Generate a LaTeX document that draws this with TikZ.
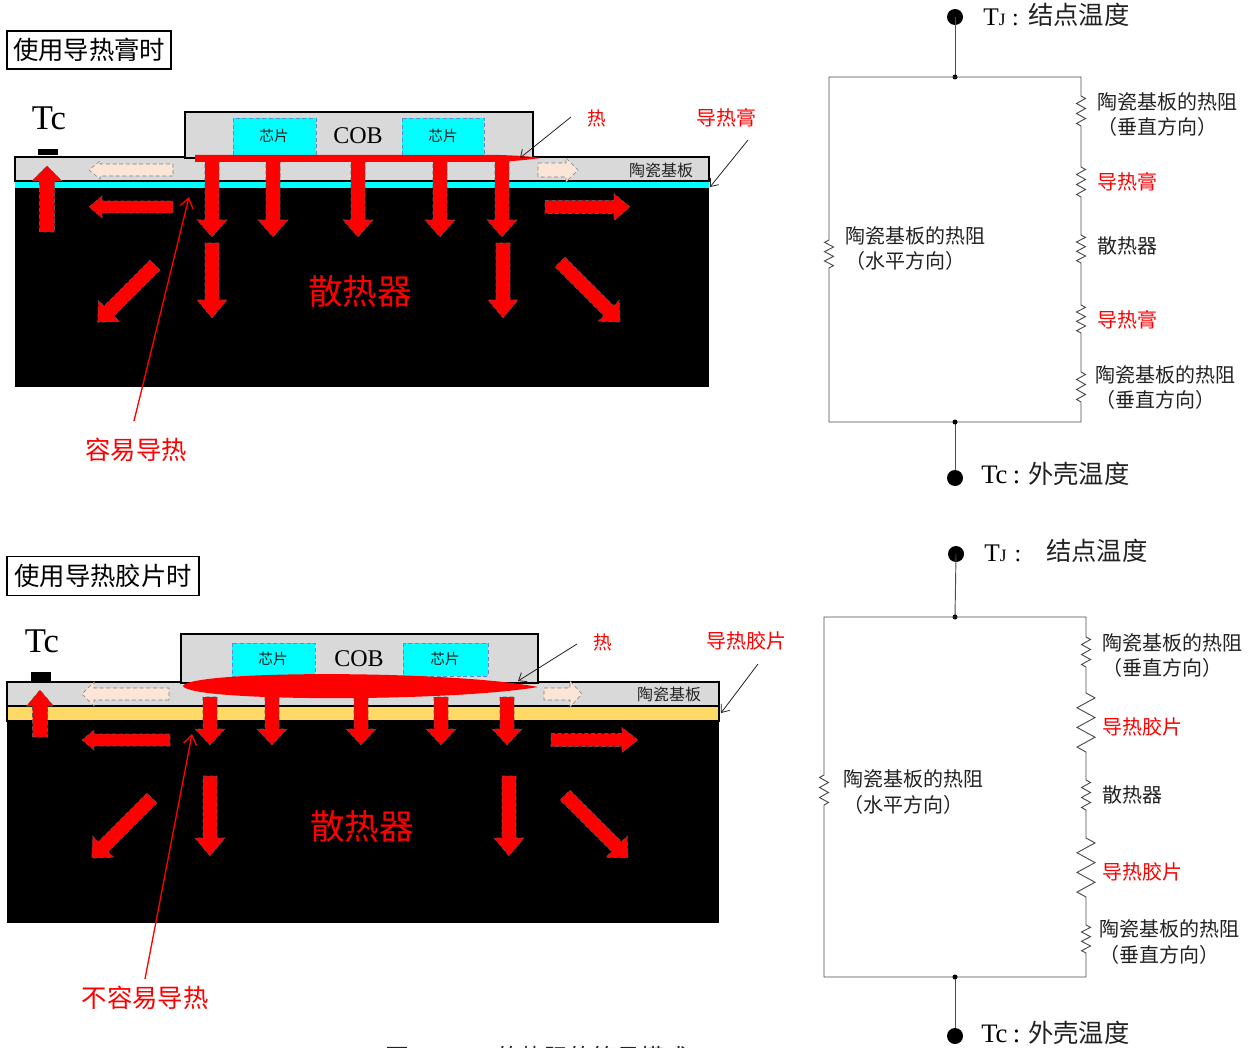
\documentclass[tikz,border=0pt]{standalone}
\usepackage{fontspec}
\setmainfont{Liberation Serif}
\newfontfamily\cjk{Noto Sans CJK SC}
\usetikzlibrary{arrows.meta}
\definecolor{plate}{HTML}{D9D9D9}
\definecolor{hot}{HTML}{FF0000}
\definecolor{peach}{HTML}{FBE5D6}
\definecolor{paste}{HTML}{00FFFF}
\definecolor{pad}{HTML}{FFD966}
\definecolor{chipedge}{HTML}{5B8FC8}
\definecolor{ink}{HTML}{222222}

% block arrow: x, y, angle, length, shaft width, head width, head length, style
\newcommand\blockarrow[8]{%
  \begin{scope}[shift={(#1,#2)},rotate=#3]
    \path[#8] (0,{-#5/2}) -- ({#4-#7},{-#5/2}) -- ({#4-#7},{-#6/2}) -- (#4,0)
      -- ({#4-#7},{#6/2}) -- ({#4-#7},{#5/2}) -- (0,{#5/2}) -- cycle;
  \end{scope}}

% zigzag resistor inserted into a wire path: x, y-start, y-end, amplitude
\newcommand\zz[4]{-- (#1,#2) -- ++(#4,{(#3-#2)/12}) -- ++({-2*#4},{(#3-#2)/6})
  -- ++({2*#4},{(#3-#2)/6}) -- ++({-2*#4},{(#3-#2)/6}) -- ++({2*#4},{(#3-#2)/6})
  -- ++({-2*#4},{(#3-#2)/6}) -- ++(#4,{(#3-#2)/12})}

\begin{document}
\begin{tikzpicture}[x=0.75pt,y=-0.75pt,
  cn/.style={font=\cjk\fontsize{#1}{#1}\selectfont, inner sep=0pt},
  lat/.style={font=\fontsize{#1}{#1}\selectfont, inner sep=0pt},
  heat/.style={fill=hot, draw=gray!70!black, densely dashed, line width=0.4pt},
  glow/.style={fill=peach, draw=gray, densely dashed, line width=0.4pt},
  chip/.style={fill=paste, draw=chipedge, densely dashed, line width=0.5pt},
  layer/.style={fill=plate, draw=black, line width=1.1pt},
  leader/.style={draw=ink, line width=0.6pt, -{Straight Barb[length=5pt,width=8pt]}},
  redlead/.style={draw=hot, line width=1pt, -{Straight Barb[length=7pt,width=10pt]}},
  wire/.style={draw=black!70, line width=0.7pt},
  bigdot/.style={fill=black, draw=none},
  ]
\useasboundingbox (0,0) rectangle (1259,1048);

%% ================= upper cross-section: thermal grease =================
\node[draw=black, line width=1.2pt, minimum width=164*0.75pt, minimum height=38*0.75pt, cn=19, inner sep=0pt]
  (titleA) at (89,50) {使用导热膏时};
\node[lat=26] (tcA) at (49,118) {Tc};
\fill[black] (38,149) rectangle (58,155);

\fill[black] (15,188) rectangle (709,387);
\fill[paste] (15,181) rectangle (709,188);
\draw[layer] (15,157) rectangle (709,181);
\draw[layer] (185,112) rectangle (533,158);
\draw[chip] (233,118) rectangle (316,155);
\draw[chip] (402,118) rectangle (484,155);
\node[cn=11, text=ink] (chipA1) at (274,136) {芯片};
\node[cn=11, text=ink] (chipA2) at (443,136) {芯片};
\node[lat=18] (cobA) at (358,136) {COB};
\node[cn=12, text=ink] (subA) at (661,170) {陶瓷基板};

% sideways spreading in the substrate
\blockarrow{173}{170}{180}{84}{12}{18}{11}{glow}
\blockarrow{538}{170}{0}{40}{14}{24}{12}{glow}

% heat flow into the heat sink
\foreach \xx in {212,273,358,440,502}
  \blockarrow{\xx}{160}{-90}{77}{14}{30}{17}{heat};
\blockarrow{212}{243}{-90}{75}{14}{30}{18}{heat}
\blockarrow{503}{243}{-90}{75}{14}{30}{18}{heat}
\blockarrow{47}{232}{90}{66}{15}{30}{15}{heat}
\blockarrow{173}{207}{180}{84}{12}{22}{13}{heat}
\blockarrow{545}{207}{0}{85}{13}{27}{16}{heat}
\blockarrow{155}{265}{-135}{81}{14}{30}{16}{heat}
\blockarrow{560}{262}{-45}{85}{14}{30}{16}{heat}

% heat source under the chips
\fill[hot] (195,155) -- (500,155) .. controls (525,156) .. (541,158)
  .. controls (525,160) .. (500,162) -- (195,162) -- cycle;

\node[cn=26, text=hot] (sinkA) at (360,291) {散热器};

\node[cn=14, text=hot] (heatA) at (597,118) {热};
\coordinate (heatAfrom) at (571,117);
\coordinate (heatAto) at (520,158);
\draw[leader] (heatAfrom) -- (heatAto);
\node[cn=15, text=hot] (greaseA) at (726,118) {导热膏};
\coordinate (greaseAfrom) at (748,140);
\coordinate (greaseAto) at (710,187);
\draw[leader] (greaseAfrom) -- (greaseAto);

\node[cn=19, text=hot] (easyA) at (136,450) {容易导热};
\coordinate (easyAfrom) at (134,421);
\coordinate (easyAto) at (189,197);
\draw[redlead] (easyAfrom) -- (easyAto);

%% ================= lower cross-section: thermal pad =================
\node[draw=black, line width=1.2pt, minimum width=192*0.75pt, minimum height=39*0.75pt, cn=19, inner sep=0pt]
  (titleB) at (103,576) {使用导热胶片时};
\node[lat=26] (tcB) at (42,641) {Tc};
\fill[black] (31,672) rectangle (51,682);

\fill[black] (7,721) rectangle (719,923);
\draw[fill=pad, draw=black, line width=1.1pt] (7,706) rectangle (719,721);
\draw[layer] (7,682) rectangle (719,706);
\draw[layer] (181,634) rectangle (538,683);
\draw[chip] (232,643) rectangle (315,676);
\draw[chip] (403,643) rectangle (488,676);
\node[cn=11, text=ink] (chipB1) at (273,659) {芯片};
\node[cn=11, text=ink] (chipB2) at (445,659) {芯片};
\node[lat=18] (cobB) at (359,659) {COB};
\node[cn=12, text=ink] (subB) at (669,694) {陶瓷基板};

\blockarrow{169}{694}{180}{87}{12}{24}{12}{glow}
\blockarrow{544}{694}{0}{38}{12}{26}{12}{glow}

\foreach \xx in {210,272,361,441,507}
  \blockarrow{\xx}{697}{-90}{48}{14}{30}{16}{heat};
\blockarrow{210}{776}{-90}{80}{14}{30}{18}{heat}
\blockarrow{509}{776}{-90}{80}{14}{30}{18}{heat}
\blockarrow{40}{737}{90}{47}{15}{27}{16}{heat}
\blockarrow{170}{740}{180}{88}{12}{20}{12}{heat}
\blockarrow{551}{740}{0}{87}{13}{25}{16}{heat}
\blockarrow{152}{798}{-135}{85}{14}{30}{16}{heat}
\blockarrow{565}{795}{-45}{89}{14}{30}{16}{heat}

% heat source under the chips
\fill[hot] (538,687) .. controls (450,670) and (190,670) .. (183,686)
  .. controls (190,702) and (450,702) .. (538,687) -- cycle;

\node[cn=26, text=hot] (sinkB) at (362,826) {散热器};

\node[cn=14, text=hot] (heatB) at (603,642) {热};
\coordinate (heatBfrom) at (577,644);
\coordinate (heatBto) at (518,681);
\draw[leader] (heatBfrom) -- (heatBto);
\node[cn=15, text=hot] (padB) at (746,641) {导热胶片};
\coordinate (padBfrom) at (758,664);
\coordinate (padBto) at (721,713);
\draw[leader] (padBfrom) -- (padBto);

\node[cn=19, text=hot] (hardB) at (145,998) {不容易导热};
\coordinate (hardBfrom) at (145,979);
\coordinate (hardBto) at (192,734);
\draw[redlead] (hardBfrom) -- (hardBto);

%% ================= upper thermal network =================
\fill[bigdot] (955,17) circle [radius=8];
\coordinate (tjA) at (955,17);
\coordinate (topA) at (955,77);
\draw[wire] (tjA) -- (topA);
\fill (topA) circle [radius=2.5];
\draw[wire] (829,77) -- (1081,77)
  \zz{1081}{96}{126}{4.5} \zz{1081}{167}{197}{4.5} \zz{1081}{235}{263}{4.5}
  \zz{1081}{305}{333}{4.5} \zz{1081}{372}{402}{4.5}
  -- (1081,422) -- (829,422) \zz{829}{268}{240}{4.5} -- cycle;
\coordinate (botA) at (955,422);
\coordinate (tcAdot) at (955,478);
\draw[wire] (botA) -- (tcAdot);
\fill (botA) circle [radius=2.5];
\fill[bigdot] (tcAdot) circle [radius=8];

\node[anchor=west, inner sep=0pt] (tjAlbl) at (983,17)
  {\fontsize{19}{19}\selectfont T\fontsize{13}{13}\selectfont J\hspace{5pt}\fontsize{18}{18}\selectfont:};
\node[anchor=west, cn=19, text=ink] (tjAtxt) at (1028,15) {结点温度};
\node[anchor=west, inner sep=0pt] (tcAlbl) at (981,475) {\fontsize{20}{20}\selectfont Tc\hspace{4pt}:};
\node[anchor=west, cn=19, text=ink] (tcAtxt) at (1028,474) {外壳温度};

\node[anchor=west, cn=15, text=ink] (rA1) at (1097,102) {陶瓷基板的热阻};
\node[anchor=west, cn=15, text=ink] (rA1b) at (1097,127) {（垂直方向）};
\node[anchor=west, cn=15, text=hot] (rA2) at (1097,182) {导热膏};
\node[anchor=west, cn=15, text=ink] (rA3) at (1097,246) {散热器};
\node[anchor=west, cn=15, text=hot] (rA4) at (1097,320) {导热膏};
\node[anchor=west, cn=15, text=ink] (rA5) at (1095,375) {陶瓷基板的热阻};
\node[anchor=west, cn=15, text=ink] (rA5b) at (1095,400) {（垂直方向）};
\node[anchor=west, cn=15, text=ink] (rA6) at (845,236) {陶瓷基板的热阻};
\node[anchor=west, cn=15, text=ink] (rA6b) at (845,261) {（水平方向）};

%% ================= lower thermal network =================
\fill[bigdot] (956,554) circle [radius=8];
\coordinate (tjB) at (956,554);
\coordinate (topB) at (955,617);
\draw[wire] (tjB) -- (topB);
\fill (topB) circle [radius=2.5];
\draw[wire] (824,617) -- (1086,617)
  \zz{1086}{637}{667}{4.5} \zz{1086}{693}{752}{9} \zz{1086}{780}{810}{4.5}
  \zz{1086}{838}{897}{9} \zz{1086}{925}{953}{4.5}
  -- (1086,977) -- (824,977) \zz{824}{805}{775}{4.5} -- cycle;
\coordinate (botB) at (955,977);
\coordinate (tcBdot) at (955,1036);
\draw[wire] (botB) -- (tcBdot);
\fill (botB) circle [radius=2.5];
\fill[bigdot] (tcBdot) circle [radius=8];

\node[anchor=west, inner sep=0pt] (tjBlbl) at (984,553)
  {\fontsize{19}{19}\selectfont T\fontsize{13}{13}\selectfont J\hspace{6pt}\fontsize{18}{18}\selectfont:};
\node[anchor=west, cn=19, text=ink] (tjBtxt) at (1046,551) {结点温度};
\node[anchor=west, inner sep=0pt] (tcBlbl) at (981,1034) {\fontsize{20}{20}\selectfont Tc\hspace{4pt}:};
\node[anchor=west, cn=19, text=ink] (tcBtxt) at (1028,1033) {外壳温度};

\node[anchor=west, cn=15, text=ink] (rB1) at (1102,643) {陶瓷基板的热阻};
\node[anchor=west, cn=15, text=ink] (rB1b) at (1102,668) {（垂直方向）};
\node[anchor=west, cn=15, text=hot] (rB2) at (1102,727) {导热胶片};
\node[anchor=west, cn=15, text=ink] (rB3) at (1102,795) {散热器};
\node[anchor=west, cn=15, text=hot] (rB4) at (1102,872) {导热胶片};
\node[anchor=west, cn=15, text=ink] (rB5) at (1099,929) {陶瓷基板的热阻};
\node[anchor=west, cn=15, text=ink] (rB5b) at (1099,955) {（垂直方向）};
\node[anchor=west, cn=15, text=ink] (rB6) at (843,779) {陶瓷基板的热阻};
\node[anchor=west, cn=15, text=ink] (rB6b) at (843,805) {（水平方向）};

%% caption, running off the lower edge of the page
\node[anchor=west, inner sep=0pt, text=ink, font=\fontsize{18}{18}\selectfont] (caption) at (385,1057)
  {\cjk 图12\ \rmfamily COB\ \cjk 的热阻的简易模式};
\end{tikzpicture}
\end{document}
